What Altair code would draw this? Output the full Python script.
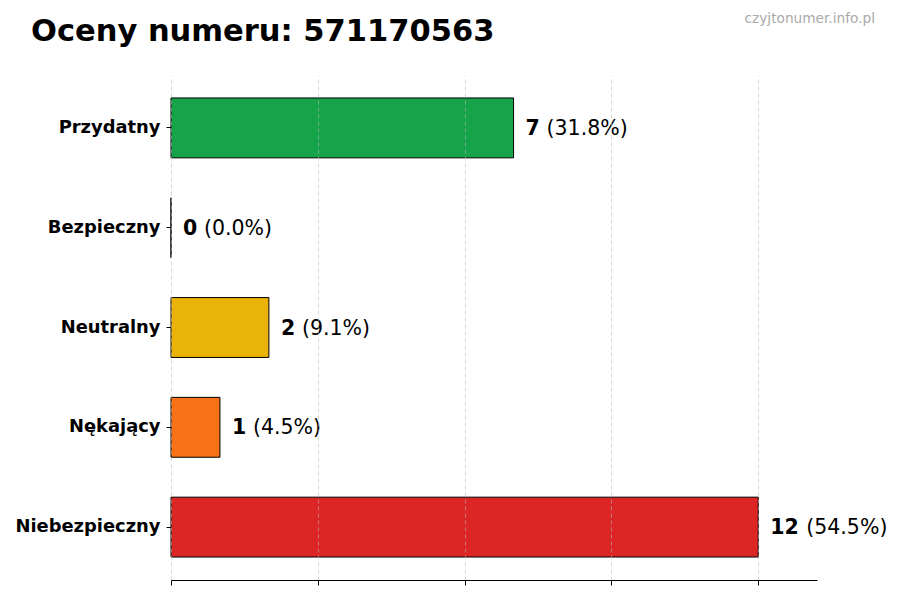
import altair as alt
import pandas as pd

categories = ["Przydatny", "Bezpieczny", "Neutralny", "Nękający", "Niebezpieczny"]
counts = [7, 0, 2, 1, 12]
percents = [31.8, 0.0, 9.1, 4.5, 54.5]
colors = ["#16a34a", "#3b82f6", "#eab308", "#f97316", "#dc2626"]
x_ticks = [0, 3, 6, 9, 12]
title_text = "Oceny numeru: 571170563"
watermark = "czyjtonumer.info.pl"

df = pd.DataFrame({"kat": categories, "n": counts, "pct": percents})

FONT = "DejaVu Sans"

y_enc = alt.Y(
    "kat:N",
    sort=categories,
    scale=alt.Scale(paddingInner=0.4, paddingOuter=0.23),
    axis=alt.Axis(
        title=None, domain=False, ticks=True, tickSize=5, tickColor="black",
        labelFont=FONT, labelFontWeight="bold", labelFontSize=17.9,
        labelColor="black", labelPadding=6, grid=False,
    ),
)
x_scale = alt.Scale(domain=[0, 13.2], nice=False, zero=True)

bars = alt.Chart(df).mark_bar(stroke="black", strokeWidth=1, opacity=1).encode(
    x=alt.X(
        "n:Q", scale=x_scale,
        axis=alt.Axis(
            title=None, values=x_ticks, labels=False, tickSize=5, tickColor="black",
            domainColor="black", domainWidth=1, grid=True, gridColor="#b8b8b8",
            gridDash=[4, 3], gridOpacity=0.55, zindex=1,
        ),
    ),
    y=y_enc,
    color=alt.Color("kat:N", scale=alt.Scale(domain=categories, range=colors), legend=None),
)

num = alt.Chart(df).mark_text(
    align="left", baseline="middle", dx=12, dy=1, font=FONT, fontSize=20.5, fontWeight="bold", color="black"
).encode(x=alt.X("n:Q", scale=x_scale), y=alt.Y("kat:N", sort=categories), text="n:Q")

pct_base = alt.Chart(df).transform_calculate(
    lab="'(' + format(datum.pct, '.1f') + '%)'"
)
pct1 = pct_base.transform_filter("datum.n < 10").mark_text(
    align="left", baseline="middle", dx=33, dy=1, font=FONT, fontSize=20.5, color="black"
).encode(x=alt.X("n:Q", scale=x_scale), y=alt.Y("kat:N", sort=categories), text="lab:N")
pct2 = pct_base.transform_filter("datum.n >= 10").mark_text(
    align="left", baseline="middle", dx=48, dy=1, font=FONT, fontSize=20.5, color="black"
).encode(x=alt.X("n:Q", scale=x_scale), y=alt.Y("kat:N", sort=categories), text="lab:N")

wm = alt.Chart(pd.DataFrame({"t": [watermark]})).mark_text(
    align="right", baseline="alphabetic", font=FONT, fontSize=13.7, color="#aaaaaa"
).encode(x=alt.value(704), y=alt.value(-52), text="t:N")

ttl = alt.Chart(pd.DataFrame({"t": [title_text]})).mark_text(
    align="left", baseline="alphabetic", font=FONT, fontSize=30.5, fontWeight="bold", color="black"
).encode(x=alt.value(-140), y=alt.value(-34), text="t:N")

chart = alt.layer(bars, num, pct1, pct2, wm, ttl).properties(
    width=646, height=505,
    autosize=alt.AutoSizeParams(type="none"),
    padding={"left": 163, "top": 67, "right": 75, "bottom": 12},
).configure(background="white").configure_view(stroke=None)

chart.save("out.html", embed_options={"renderer": "svg", "actions": False})
